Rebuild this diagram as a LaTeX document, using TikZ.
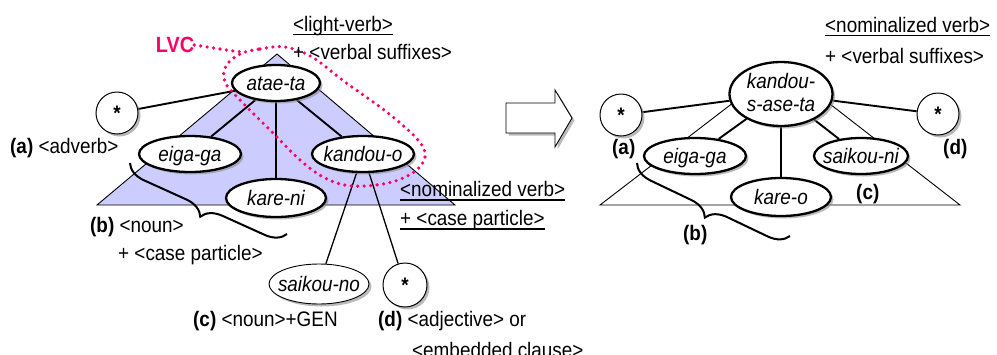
\documentclass[tikz,border=0pt]{standalone}
\usepackage{fontspec}
\setmainfont{Liberation Sans}[FakeStretch=0.9]
\usetikzlibrary{shapes.geometric,shadows,decorations.pathreplacing,backgrounds}
\definecolor{lav}{RGB}{204,204,255}
\definecolor{lvcpink}{RGB}{255,0,102}
% label centred in a node without enlarging it
\newcommand\lbl[1]{\smash{\makebox[0pt]{\raisebox{-0.36em}{#1}}}}
\newcommand\lbltwo[2]{\smash{\makebox[0pt]{\raisebox{-0.3em}{\begin{tabular}{@{}c@{}}#1\\[-1pt]#2\end{tabular}}}}}
\newcommand\fs{\fontsize{21}{24}\selectfont}

\begin{document}
\begin{tikzpicture}[x=1pt,y=-1pt,
  every node/.style={font=\fs},
  dshadow/.style={drop shadow={shadow xshift=2.5pt,shadow yshift=-2.5pt,fill=black!45,opacity=0.6}},
  word/.style={ellipse,draw,line width=2.3pt,fill=white,inner sep=0pt,dshadow,font=\fs\itshape},
  thinword/.style={word,line width=0.9pt},
  slot/.style={circle,draw,line width=1pt,fill=white,inner sep=0pt,minimum size=42pt,dshadow,
    font=\fs\bfseries},
  txt/.style={anchor=base west,inner sep=0pt},
  tag/.style={txt,font=\fs\bfseries},
  link/.style={line width=1.9pt},
  thinlink/.style={line width=1.3pt},
  uline/.style={line width=1.8pt},
  lvcdots/.style={draw=lvcpink,line width=3.6pt,line cap=round,dash pattern=on 0pt off 6.5pt},
  bracket/.style={decorate,decoration={brace,amplitude=20pt},line width=2pt}
]
\useasboundingbox (0,0) rectangle (997,354);

% ---------- structures under the words ----------
\begin{pgfonlayer}{background}
\draw[fill=lav,line width=0.9pt] (277,54) -- (455,205) -- (97,205) -- cycle;
\draw[line width=0.9pt] (781,66) -- (960,205) -- (600,205) -- cycle;
\end{pgfonlayer}

% ---------- left tree ----------
\node[word,minimum width=88pt,minimum height=36pt] (atae) at (276,83) {\lbl{atae-ta}};
\node[slot] (starA) at (117,113) {*};
\node[word,minimum width=102pt,minimum height=36pt] (eigaL) at (190,154) {\lbl{eiga-ga}};
\node[word,minimum width=102pt,minimum height=36pt] (kandouo) at (363,154) {\lbl{kandou-o}};
\node[word,minimum width=100pt,minimum height=38pt] (kareni) at (276,198) {\lbl{kare-ni}};
\node[thinword,minimum width=100pt,minimum height=40pt] (saikouno) at (319,284) {\lbl{saikou-no}};
\node[slot,minimum size=44pt] (starD) at (405,285) {*};

\begin{pgfonlayer}{background}
\draw[link] (atae) -- (starA);
\draw[link] (atae) -- (eigaL);
\draw[link] (atae) -- (kareni);
\draw[link] (atae) -- (kandouo);
\draw[thinlink] (kandouo) -- (saikouno);
\draw[thinlink] (kandouo) -- (starD);
\end{pgfonlayer}

% ---------- right tree ----------
\node[word,minimum width=103pt,minimum height=64pt] (ksa) at (781,94) {\lbltwo{kandou-}{s-ase-ta}};
\node[slot] (starA2) at (621,115) {*};
\node[slot] (starD2) at (938,114) {*};
\node[word,minimum width=102pt,minimum height=36pt] (eigaR) at (695,156) {\lbl{eiga-ga}};
\node[word,minimum width=94pt,minimum height=36pt] (saikouni) at (861,156) {\lbl{saikou-ni}};
\node[word,minimum width=100pt,minimum height=38pt] (kareo) at (781,197) {\lbl{kare-o}};

\begin{pgfonlayer}{background}
\draw[link] (ksa) -- (starA2);
\draw[link] (ksa) -- (starD2);
\draw[link] (ksa) -- (eigaR);
\draw[link] (ksa) -- (saikouni);
\draw[link] (ksa) -- (kareo);
\end{pgfonlayer}

% ---------- transformation arrow ----------
\draw[line width=0.9pt,fill=white,dshadow]
  (506,103) -- (555,103) -- (555,90) -- (572,118) -- (555,147) -- (555,133) -- (506,133) -- cycle;

% ---------- light verb construction ----------
\node[inner sep=0pt,text=lvcpink,font=\fontsize{22}{24}\selectfont\bfseries] (lvc) at (175,45) {LVC};
\coordinate (lvcjoin) at (243,52);
\draw[lvcdots] (lvc.east) .. controls (215,48) and (230,51) .. (lvcjoin);
\draw[lvcdots] plot[smooth cycle,tension=0.6] coordinates {
  (240,54) (260,49) (285,47) (312,57) (345,82) (388,113) (418,140) (425,157)
  (414,172) (388,183) (352,186) (325,178) (300,160) (272,132) (240,100) (225,82) (226,66)};

% ---------- braces ----------
\coordinate (bL1) at (130,163);
\coordinate (bL2) at (287,234);
\draw[bracket] (bL2) -- (bL1);
\coordinate (bR1) at (637,163);
\coordinate (bR2) at (790,236);
\draw[bracket] (bR2) -- (bR1);

% ---------- annotations, left ----------
\node[txt] (lv) at (293,31) {<light-verb>};
\draw[uline] ([yshift=-3.5pt]lv.base west) -- ([yshift=-3.5pt]lv.base east);
\node[txt] (vsL) at (293,59) {+ <verbal suffixes>};
\node[txt] (adv) at (10,153) {\textbf{(a)} <adverb>};
\node[txt] (nounb) at (90,232) {\textbf{(b)} <noun>};
\node[txt] (cpb) at (118,260) {+ <case particle>};
\node[txt] (gen) at (193,326) {\textbf{(c)} <noun>+GEN};
\node[txt] (adj) at (378,326) {\textbf{(d)} <adjective> or};
\node[txt] (emb) at (412,357) {<embedded clause>};
\node[txt] (nv) at (400,196) {<nominalized verb>};
\draw[uline] ([yshift=-4pt]nv.base west) -- ([yshift=-4pt]nv.base east);
\node[txt] (cp) at (400,225) {+ <case particle>};
\draw[uline] ([yshift=-4pt]cp.base west) -- ([yshift=-4pt]cp.base east);

% ---------- annotations, right ----------
\node[txt] (nvR) at (825,32) {<nominalized verb>};
\draw[uline] ([yshift=-3.5pt]nvR.base west) -- ([yshift=-3.5pt]nvR.base east);
\node[txt] (vsR) at (825,63) {+ <verbal suffixes>};
\node[tag] (aR) at (612,154) {(a)};
\node[tag] (dR) at (943,154) {(d)};
\node[tag] (cR) at (856,199) {(c)};
\node[tag] (bR) at (683,240) {(b)};
\end{tikzpicture}
\end{document}
